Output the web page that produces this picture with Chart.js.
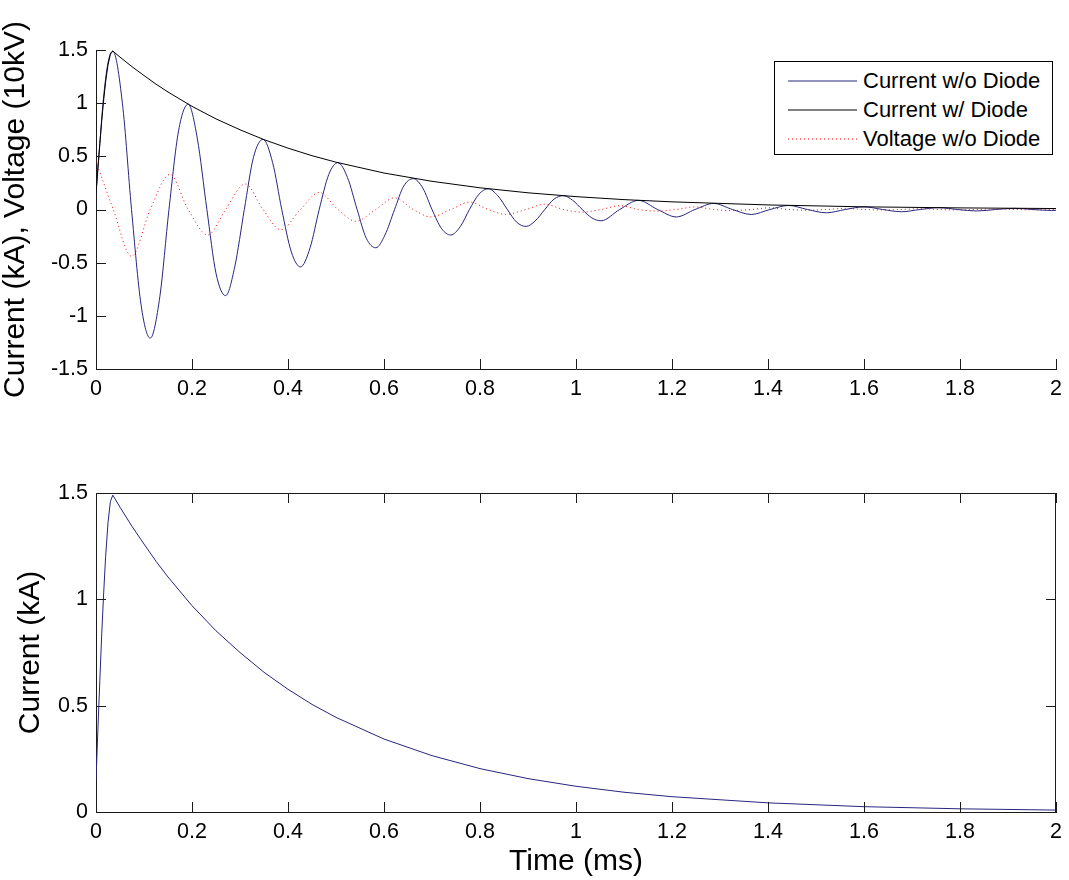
<!DOCTYPE html>
<html>
<head>
<meta charset="utf-8">
<title>Current / Voltage with and without diode</title>
<script src="https://cdn.jsdelivr.net/npm/chart.js@4.4.1/dist/chart.umd.min.js"></script>
<style>
  html, body { margin:0; padding:0; background:#fff; }
  body { width:1069px; height:880px; position:relative; overflow:hidden; font-family:'Liberation Sans', Arial, sans-serif; }
  canvas { position:absolute; left:0; }
  #topChart { top:0; }
  #bottomChart { top:430px; }
  #legend { position:absolute; left:774px; top:61px; width:279px; height:94px; box-sizing:border-box;
            border:1px solid #000; background:#fff; padding-top:4px; font-size:22px; color:#000; }
  #legend .row { display:flex; align-items:center; height:29px; }
  #legend svg { margin-left:13px; margin-right:6px; flex:none; }
  #legend span { white-space:nowrap; line-height:29px; }
</style>
</head>
<body>
<canvas id="topChart" width="1069" height="430"></canvas>
<canvas id="bottomChart" width="1069" height="450"></canvas>
<div id="legend"></div>

<script>
// values (time in ms)

// Current w/o Diode (kA)
const T_NO_DIODE = [
  0, 0.008, 0.015, 0.025,
  0.035, 0.055, 0.074, 0.094, 0.113, 0.133, 0.152, 0.172,
  0.192, 0.211, 0.231, 0.250, 0.270, 0.289, 0.309, 0.328,
  0.348, 0.368, 0.387, 0.407, 0.426, 0.446, 0.465, 0.485,
  0.504, 0.524, 0.544, 0.563, 0.583, 0.602, 0.622, 0.641,
  0.661, 0.681, 0.700, 0.720, 0.739, 0.759, 0.778, 0.798,
  0.817, 0.837, 0.857, 0.876, 0.896, 0.915, 0.935, 0.954,
  0.974, 0.993, 1.013, 1.033, 1.052,
  1.091, 1.130, 1.170, 1.209, 1.248, 1.287, 1.326, 1.365, 1.404, 1.443, 1.482, 1.522,
  1.561, 1.600, 1.639, 1.678, 1.717, 1.756, 1.795, 1.835, 1.874, 1.913, 1.952, 1.991,
  2.0
];
const I_NO_DIODE = [
  0.15, 0.62, 1.02, 1.38,
  1.49, 1.00, 0, -0.90, -1.21, -0.82, 0, 0.74,
  0.99, 0.67, 0, -0.60, -0.81, -0.54, 0, 0.49,
  0.66, 0.44, 0, -0.40, -0.54, -0.36, 0, 0.33,
  0.44, 0.30, 0, -0.27, -0.36, -0.24, 0, 0.22,
  0.29, 0.20, 0, -0.18, -0.24, -0.16, 0, 0.145,
  0.195, 0.13, 0, -0.118, -0.159, -0.107, 0, 0.097,
  0.13, 0.087, 0, -0.079, -0.106,
  0, 0.086, 0, -0.07, 0, 0.057, 0, -0.047, 0, 0.038, 0, -0.031,
  0, 0.025, 0, -0.021, 0, 0.017, 0, -0.014, 0, 0.011, 0, -0.009,
  -0.008
];

// Current w/ Diode (kA) - same curve in both panels
const T_DIODE = [0, 0.004, 0.008, 0.012, 0.016, 0.02, 0.025, 0.03, 0.035,
                 0.05, 0.075, 0.1, 0.125, 0.15,
                 0.2, 0.25, 0.3, 0.35, 0.4, 0.45, 0.5, 0.6, 0.7, 0.8, 0.9, 1.0,
                 1.1, 1.2, 1.4, 1.6, 1.8, 2.0];
const I_DIODE = [0.15, 0.39, 0.62, 0.84, 1.03, 1.20, 1.36, 1.46, 1.49,
                 1.433, 1.343, 1.26, 1.179, 1.105,
                 0.97, 0.852, 0.75, 0.657, 0.577, 0.506, 0.445, 0.343, 0.265, 0.204, 0.157, 0.121,
                 0.093, 0.072, 0.043, 0.025, 0.015, 0.009];

// Voltage w/o Diode (10 kV)
const T_VOLT = [
  0, 0.036, 0.074, 0.113, 0.154, 0.192, 0.233, 0.270, 0.311, 0.348,
  0.385, 0.426, 0.465, 0.504, 0.541, 0.583, 0.622, 0.661, 0.697, 0.739,
  0.779, 0.817, 0.854, 0.896, 0.935, 0.974, 1.011, 1.052, 1.091, 1.130,
  1.168, 1.209, 1.248, 1.287, 1.324, 1.365, 1.404, 1.443, 1.480, 1.522,
  1.561, 1.600, 1.637, 1.678, 1.717, 1.756, 1.793, 1.835, 1.874, 1.913,
  1.950, 2.0
];
const V_NO_DIODE = [
  0.45, 0, -0.44, 0, 0.33, 0, -0.24, 0, 0.24, 0,
  -0.19, 0, 0.16, 0, -0.11, 0, 0.11, 0, -0.07, 0,
  0.07, 0, -0.045, 0, 0.05, 0, -0.025, 0, 0.035, 0,
  -0.015, 0, 0.024, 0, -0.01, 0, 0.016, 0, -0.007, 0,
  0.011, 0, -0.005, 0, 0.008, 0, -0.004, 0, 0.005, 0,
  -0.003, 0
];

const X_TICKS = [0, 0.2, 0.4, 0.6, 0.8, 1, 1.2, 1.4, 1.6, 1.8, 2];
const Y_TICKS_TOP = [-1.5, -1, -0.5, 0, 0.5, 1, 1.5];
const Y_TICKS_BOTTOM = [0, 0.5, 1, 1.5];

const FONT = "'Liberation Sans', Arial, sans-serif";
const AXIS_COLOR = '#1a1a1a';
const BLUE = '#26267f';
const TICK_LEN = 10;

document.addEventListener('DOMContentLoaded', () => {
  const top = initTop();
  initBottom();
  buildLegend(top);
});

function pts(xs, ys){ return xs.map((x, i) => ({ x, y: ys[i] })); }
function fmt(v){ return String(+v.toFixed(2)); }

// MATLAB-like inward ticks (and optional full box)
const matlabAxes = {
  id: 'matlabAxes',
  afterDraw(chart, args, opts){
    const { ctx, chartArea:a, scales:{ x, y } } = chart;
    ctx.save();
    ctx.strokeStyle = AXIS_COLOR;
    ctx.lineWidth = 1;
    ctx.beginPath();
    x.ticks.forEach(t => {
      const px = Math.round(x.getPixelForValue(t.value)) + 0.5;
      ctx.moveTo(px, a.bottom); ctx.lineTo(px, a.bottom - TICK_LEN);
      if (opts.box){ ctx.moveTo(px, a.top); ctx.lineTo(px, a.top + TICK_LEN); }
    });
    y.ticks.forEach(t => {
      const py = Math.round(y.getPixelForValue(t.value)) + 0.5;
      ctx.moveTo(a.left, py); ctx.lineTo(a.left + TICK_LEN, py);
      if (opts.box){ ctx.moveTo(a.right, py); ctx.lineTo(a.right - TICK_LEN, py); }
    });
    if (opts.box){
      ctx.moveTo(a.left, Math.round(a.top) + 0.5); ctx.lineTo(a.right, Math.round(a.top) + 0.5);
      ctx.moveTo(Math.round(a.right) - 0.5, a.top); ctx.lineTo(Math.round(a.right) - 0.5, a.bottom);
    }
    ctx.stroke();
    ctx.restore();
  }
};

function xScale(height, title){
  return {
    type:'linear', min:0, max:2,
    afterBuildTicks: s => { s.ticks = X_TICKS.map(v => ({ value:v })); },
    afterFit: s => { s.height = height; },
    grid:{ display:false, drawTicks:false },
    border:{ display:true, color:AXIS_COLOR, width:1 },
    ticks:{ color:'#000', font:{ family:FONT, size:21.5 }, padding:7, maxRotation:0, autoSkip:false, callback:fmt },
    title: title ? { display:true, text:title, color:'#000', font:{ family:FONT, size:30, lineHeight:1 }, padding:{ top:0, bottom:3 } } : { display:false }
  };
}

function yScale(min, max, ticks, title, titlePad){
  return {
    type:'linear', min, max,
    afterBuildTicks: s => { s.ticks = ticks.map(v => ({ value:v })); },
    afterFit: s => { s.width = 96; },
    grid:{ display:false, drawTicks:false },
    border:{ display:true, color:AXIS_COLOR, width:1 },
    ticks:{ color:'#000', font:{ family:FONT, size:21.5 }, padding:8, autoSkip:false, callback:fmt },
    title:{ display:true, text:title, color:'#000', font:{ family:FONT, size:30, lineHeight:1 }, padding:{ top:titlePad, bottom:0 } }
  };
}

function initTop(){
  const ctx = document.getElementById('topChart');
  return new Chart(ctx, {
    type:'line',
    data:{ datasets:[
      { label:'Current w/o Diode', data:pts(T_NO_DIODE, I_NO_DIODE), borderColor:BLUE, borderWidth:1,
        pointRadius:0, cubicInterpolationMode:'monotone', order:3 },
      { label:'Current w/ Diode', data:pts(T_DIODE, I_DIODE), borderColor:'#000', borderWidth:1,
        pointRadius:0, tension:0, order:2 },
      { label:'Voltage w/o Diode', data:pts(T_VOLT, V_NO_DIODE), borderColor:'#ff0000', borderWidth:1,
        borderDash:[1, 3], pointRadius:0, cubicInterpolationMode:'monotone', order:1 }
    ]},
    options:{
      responsive:false, animation:false, events:[],
      layout:{ padding:{ top:50, right:6, left:0, bottom:0 } },
      plugins:{ legend:{ display:false }, tooltip:{ enabled:false }, matlabAxes:{ box:false } },
      scales:{
        x: xScale(61, null),
        y: yScale(-1.5, 1.5, Y_TICKS_TOP, 'Current (kA), Voltage (10kV)', 1)
      }
    },
    plugins:[matlabAxes]
  });
}

function initBottom(){
  const ctx = document.getElementById('bottomChart');
  return new Chart(ctx, {
    type:'line',
    data:{ datasets:[
      { label:'Current', data:pts(T_DIODE, I_DIODE), borderColor:BLUE, borderWidth:1,
        pointRadius:0, tension:0 }
    ]},
    options:{
      responsive:false, animation:false, events:[],
      layout:{ padding:{ top:63, right:6, left:0, bottom:0 } },
      plugins:{ legend:{ display:false }, tooltip:{ enabled:false }, matlabAxes:{ box:true } },
      scales:{
        x: xScale(68, 'Time (ms)'),
        y: yScale(0, 1.5, Y_TICKS_BOTTOM, 'Current (kA)', 16)
      }
    },
    plugins:[matlabAxes]
  });
}

// legend box in the top-right corner of the upper panel
function buildLegend(chart){
  const box = document.getElementById('legend');
  box.innerHTML = chart.data.datasets.map(ds => {
    const dash = (ds.borderDash || []).join(' ');
    return `<div class="row">
      <svg width="69" height="4"><line x1="0" y1="2" x2="69" y2="2" stroke="${ds.borderColor}" stroke-width="1"${dash ? ` stroke-dasharray="${dash}"` : ''}/></svg>
      <span>${ds.label}</span></div>`;
  }).join('');
}
</script>
</body>
</html>
